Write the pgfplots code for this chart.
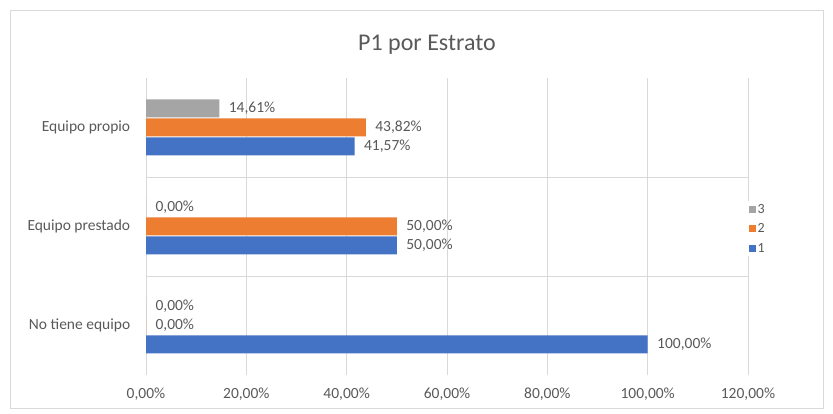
\documentclass[border=0pt]{standalone}
\usepackage{pgfplots}
\pgfplotsset{compat=1.18}
\usepackage{fontspec}
\setmainfont{Carlito}
\definecolor{cblue}{HTML}{4472C4}
\definecolor{corange}{HTML}{ED7D31}
\definecolor{cgray}{HTML}{A5A5A5}
\definecolor{ctext}{HTML}{595959}
\definecolor{cgrid}{HTML}{D9D9D9}
\begin{document}
\begin{tikzpicture}[x=1pt,y=1pt]
\path[use as bounding box] (0,0) rectangle (833,414);
\draw[cgrid,line width=0.8pt] (10,6) rectangle (823,404);
\node[text=ctext,font=\fontsize{24}{28}\selectfont] at (427,369) {P1 por Estrato};
\begin{axis}[
  at={(146pt,39pt)}, anchor=south west,
  scale only axis, width=602pt, height=297pt,
  xbar, bar width=18pt,
  xmin=0, xmax=120, ymin=-0.5, ymax=2.5,
  xtick={0,20,...,120},
  xticklabels={0{,}00\%,20{,}00\%,40{,}00\%,60{,}00\%,80{,}00\%,100{,}00\%,120{,}00\%},
  ytick={0,1,2},
  yticklabels={No tiene equipo,Equipo prestado,Equipo propio},
  extra y ticks={0.5,1.5}, extra y tick labels={},
  extra y tick style={grid=major, major grid style={cgrid}, tick style={draw=none}},
  xmajorgrids, major grid style={cgrid},
  axis line style={draw=none},
  tick style={draw=none},
  x tick label style={text=ctext,font=\fontsize{15.5}{18}\selectfont, yshift=-9pt},
  y tick label style={text=ctext,font=\fontsize{15.5}{18}\selectfont, xshift=-8pt},
  nodes near coords,
  point meta=explicit symbolic,
  every node near coord/.append style={text=ctext,font=\fontsize{15.5}{18}\selectfont, anchor=west, xshift=6pt},
  legend style={draw=none, at={(rel axis cs:1.0,0.585)}, anchor=north west,
     nodes={font=\fontsize{14}{16}\selectfont, text=ctext, inner sep=1.5pt}, row sep=6pt,
     legend cell align=left, inner sep=1pt},
  legend image code/.code={\fill[#1] (0pt,-3.5pt) rectangle (7pt,3.5pt);},
  reverse legend,
  clip=false,
]
\addplot[fill=cblue, draw=none, bar shift=-19pt] coordinates {(100,0) [100{,}00\%] (50,1) [50{,}00\%] (41.57,2) [41{,}57\%]};
\addlegendentry{1}
\addplot[fill=corange, draw=none, bar shift=0pt] coordinates {(0,0) [0{,}00\%] (50,1) [50{,}00\%] (43.82,2) [43{,}82\%]};
\addlegendentry{2}
\addplot[fill=cgray, draw=none, bar shift=19pt] coordinates {(0,0) [0{,}00\%] (0,1) [0{,}00\%] (14.61,2) [14{,}61\%]};
\addlegendentry{3}
\end{axis}
\end{tikzpicture}
\end{document}
